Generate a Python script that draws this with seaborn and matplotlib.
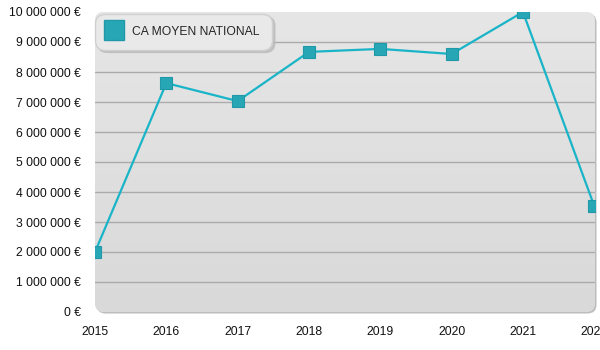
import matplotlib
matplotlib.use("Agg")
import matplotlib.pyplot as plt
import numpy as np
import pandas as pd
import seaborn as sns
from matplotlib.patches import FancyBboxPatch
from matplotlib.transforms import IdentityTransform
from matplotlib.lines import Line2D

years = [2015, 2016, 2017, 2018, 2019, 2020, 2021, 2022]
ca_moyen = [2000000, 7630000, 7030000, 8670000, 8770000, 8600000, 10000000, 3530000]
series_name = "CA MOYEN NATIONAL"
y_ticks = [0, 1000000, 2000000, 3000000, 4000000, 5000000, 6000000, 7000000, 8000000, 9000000, 10000000]

sns.set_style("white")
plt.rcParams['font.family'] = ['Liberation Sans', 'DejaVu Sans']

df = pd.DataFrame({"year": years, "value": ca_moyen})

fig = plt.figure(figsize=(6, 3.5), dpi=100)
ax = fig.add_axes([95/600, 1-312/350, 500/600, 300/350])
ax.patch.set_visible(False)

# rounded gradient background in pixel coordinates
shadow = FancyBboxPatch((96.5, 36.5), 500, 300, boxstyle="round,pad=0,rounding_size=9",
                        transform=IdentityTransform(), facecolor="#bdbdbd", edgecolor="none", zorder=-3)
fig.patches.append(shadow)
bg = FancyBboxPatch((95, 38), 500, 300, boxstyle="round,pad=0,rounding_size=9",
                    transform=IdentityTransform(), facecolor="#e0e0e0", edgecolor="none", zorder=-2)
fig.patches.append(bg)
grad = np.linspace(0, 1, 256).reshape(-1, 1)
gax = fig.add_axes([95/600, 1-312/350 + 0.0001, 500/600, 300/350], zorder=-1)
gax.axis("off")
img = gax.imshow(np.dstack([np.interp(grad, [0, 1], [0.902, 0.851])]*3), extent=[0, 1, 0, 1],
                 aspect="auto", transform=gax.transAxes)
img.set_clip_path(bg)
ax.set_zorder(1)

for t in y_ticks[1:-1]:
    ax.axhline(t, color="#ababab", lw=1.0, zorder=1)

sns.lineplot(data=df, x="year", y="value", ax=ax, color="#19b4c7", lw=1.6,
             marker="s", markersize=8.5, markerfacecolor="#27a7b6", markeredgecolor="#1f99a8",
             markeredgewidth=0.8, zorder=3)

ax.set_xlim(2015, 2022.01)
ax.set_ylim(0, 10000000)
ax.set_xticks(years)
ax.set_xticklabels([str(y) for y in years])
ax.set_yticks(y_ticks)
ax.set_yticklabels([f"{v:,}".replace(",", " ") + " €" for v in y_ticks])
ax.tick_params(axis="y", length=0, pad=10, labelsize=8.7, labelcolor="#111111")
ax.tick_params(axis="x", length=0, pad=10, labelsize=8.7, labelcolor="#111111")
ax.set_xlabel("")
ax.set_ylabel("")
for s in ax.spines.values():
    s.set_visible(False)
ax.grid(False)

handle = Line2D([], [], linestyle="none", marker="s", markersize=14,
                markerfacecolor="#27a7b6", markeredgecolor="#1f99a8")
leg = ax.legend([handle], [series_name], loc="upper left", bbox_to_anchor=(0.0, 0.995),
                frameon=True, fancybox=True, shadow={"color": "#bbbbbb", "alpha": 0.8},
                facecolor="#e9e9e9", edgecolor="#d0d0d0", framealpha=1, fontsize=8.7,
                borderpad=1.0, handletextpad=0.9, borderaxespad=0.0, handlelength=1.2)
leg.get_frame().set_boxstyle("round,pad=0,rounding_size=0.8")
leg.set_zorder(5)

fig.savefig("out.png", dpi=100)
